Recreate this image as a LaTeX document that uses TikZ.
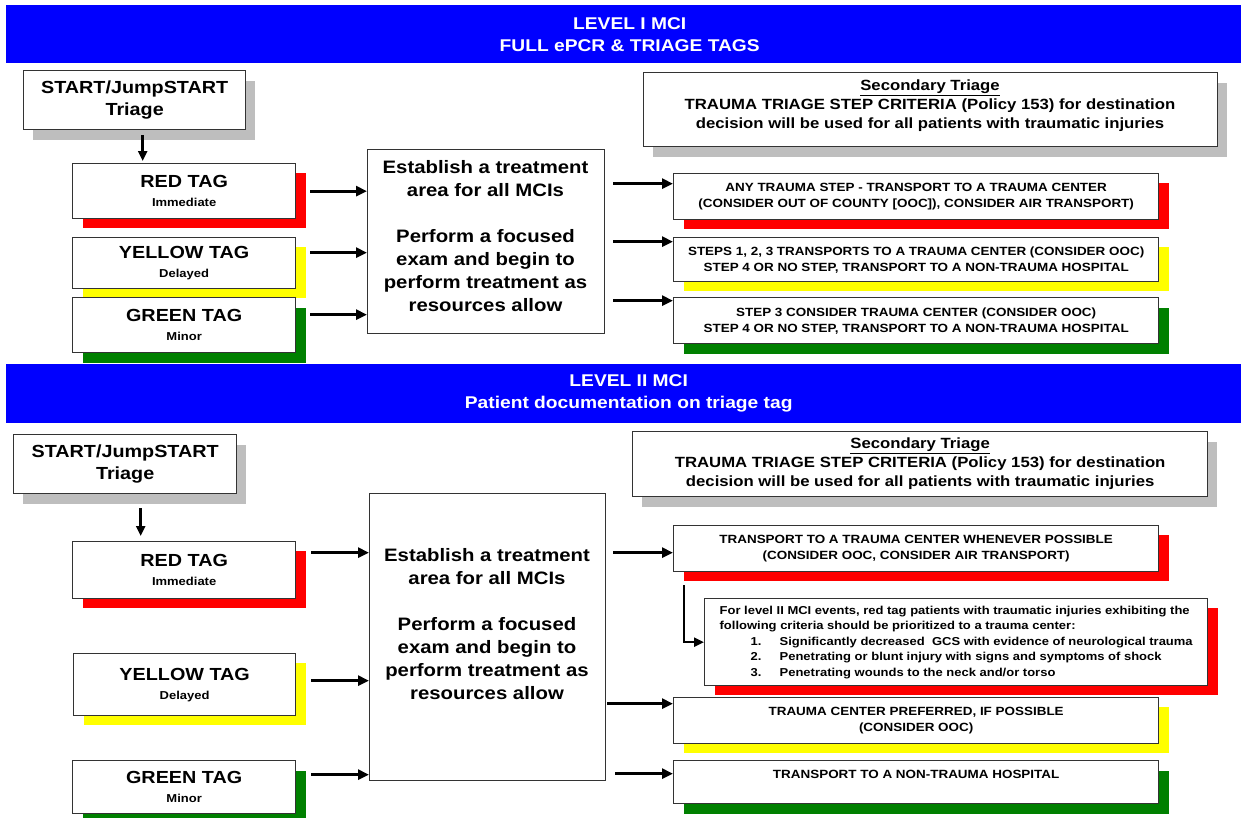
\documentclass[tikz,border=0pt]{standalone}
\usepackage{fontspec}
\setmainfont{Liberation Sans}[FakeStretch=1.13]
\usetikzlibrary{arrows.meta,shadows}
\definecolor{hblue}{RGB}{0,0,255}
\definecolor{tred}{RGB}{255,0,0}
\definecolor{tyel}{RGB}{255,255,0}
\definecolor{tgrn}{RGB}{0,128,0}
\definecolor{tgray}{RGB}{190,190,190}
\newcommand{\smalltag}[1]{{\fontsize{11.5}{12}\selectfont #1}}
\begin{document}
\begin{tikzpicture}[x=1pt,y=-1pt,
  box/.style={draw=black!80, line width=1.3pt, fill=white, inner sep=0pt, anchor=north west, align=center},
  shgray/.style={drop shadow={shadow xshift=9pt,shadow yshift=-10pt,fill=tgray,opacity=1}},
  shred/.style={drop shadow={shadow xshift=10pt,shadow yshift=-9pt,fill=tred,opacity=1}},
  shyel/.style={drop shadow={shadow xshift=10pt,shadow yshift=-9pt,fill=tyel,opacity=1}},
  shgrn/.style={drop shadow={shadow xshift=10pt,shadow yshift=-10pt,fill=tgrn,opacity=1}},
  hdr/.style={fill=hblue, inner sep=0pt, anchor=north west, align=center, text=white, font=\bfseries\fontsize{17}{22}\selectfont},
  starttxt/.style={font=\bfseries\fontsize{17.5}{22}\selectfont},
  tagtxt/.style={font=\bfseries\fontsize{17.5}{19}\selectfont},
  midtxt/.style={align=center, inner sep=0pt, font=\bfseries\fontsize{18}{23}\selectfont},
  restxt/.style={font=\bfseries\fontsize{11.9}{16}\selectfont},
  sectxt/.style={align=center, inner sep=0pt, font=\bfseries\fontsize{14.8}{19}\selectfont},
  arr/.style={line width=2.8pt, -{Triangle[length=11pt,width=10pt]}},
  arrb/.style={line width=2.4pt, -{Triangle[length=10pt,width=9pt]}}
]
\useasboundingbox (0,0) rectangle (1241,817);

% ===== headers =====
\node[hdr, minimum width=1235pt, minimum height=58pt] (hdr1) at (6,5) {\hspace*{12pt}LEVEL I MCI\\\hspace*{12pt}FULL ePCR \& TRIAGE TAGS};
\node[hdr, minimum width=1235pt, minimum height=59pt] (hdr2) at (6,364) {\hspace*{10pt}LEVEL II MCI\\\hspace*{10pt}Patient documentation on triage tag};

% ===== LEVEL I =====
\node[box, shgray, starttxt, minimum width=222pt, minimum height=59pt] (start1) at (23,70) {START/JumpSTART\\Triage};
\node[box, shred, tagtxt, minimum width=223pt, minimum height=55pt] (red1) at (72,163) {RED TAG\\\smalltag{Immediate}};
\node[box, shyel, tagtxt, minimum width=223pt, minimum height=51pt] (yel1) at (72,237) {YELLOW TAG\\\smalltag{Delayed}};
\node[box, shgrn, tagtxt, minimum width=223pt, minimum height=55pt] (grn1) at (72,297) {GREEN TAG\\\smalltag{Minor}};

\node[box, minimum width=237pt, minimum height=184pt] (mid1) at (367,149) {};
\node[midtxt] (mid1t) at (485.5,236) {Establish a treatment\\area for all MCIs\\[23pt]Perform a focused\\exam and begin to\\perform treatment as\\resources allow};

\node[box, shgray, minimum width=574pt, minimum height=74pt] (sec1) at (643,72) {};
\node[sectxt] (sec1t) at (930,106) {\underline{Secondary Triage}\\TRAUMA TRIAGE STEP CRITERIA (Policy 153) for destination\\decision will be used for all patients with traumatic injuries};

\node[box, shred, restxt, minimum width=485pt, minimum height=46pt] (r1a) at (673,173) {ANY TRAUMA STEP - TRANSPORT TO A TRAUMA CENTER\\(CONSIDER OUT OF COUNTY [OOC]), CONSIDER AIR TRANSPORT)};
\node[box, shyel, restxt, minimum width=485pt, minimum height=44pt] (r1b) at (673,237) {STEPS 1, 2, 3 TRANSPORTS TO A TRAUMA CENTER (CONSIDER OOC)\\STEP 4 OR NO STEP, TRANSPORT TO A NON-TRAUMA HOSPITAL};
\node[box, shgrn, restxt, minimum width=485pt, minimum height=46pt] (r1c) at (673,297) {STEP 3 CONSIDER TRAUMA CENTER (CONSIDER OOC)\\STEP 4 OR NO STEP, TRANSPORT TO A NON-TRAUMA HOSPITAL};

% connectors level I
\coordinate (d1) at ([xshift=8pt,yshift=-5pt]start1.south);
\draw[arrb, shorten >=2pt] (d1) -- (d1 |- red1.north);
\coordinate (ar1) at ([xshift=14pt]red1.east);
\coordinate (ay1) at ([xshift=14pt,yshift=10.5pt]yel1.east);
\coordinate (ag1) at ([xshift=14pt,yshift=10.5pt]grn1.east);
\draw[arr] (ar1) -- (ar1 -| mid1.west);
\draw[arr] (ay1) -- (ay1 -| mid1.west);
\draw[arr] (ag1) -- (ag1 -| mid1.west);
\coordinate (o1a) at ([yshift=13pt]r1a.west);
\coordinate (o1b) at ([yshift=18pt]r1b.west);
\coordinate (o1c) at ([yshift=20pt]r1c.west);
\draw[arr, shorten <=8pt] (o1a -| mid1.east) -- (o1a);
\draw[arr, shorten <=8pt] (o1b -| mid1.east) -- (o1b);
\draw[arr, shorten <=8pt] (o1c -| mid1.east) -- (o1c);

% ===== LEVEL II =====
\node[box, shgray, starttxt, minimum width=223pt, minimum height=59pt] (start2) at (13,434) {START/JumpSTART\\Triage};
\node[box, shred, tagtxt, minimum width=223pt, minimum height=57pt] (red2) at (72,541) {RED TAG\\\smalltag{Immediate}};
\node[box, shyel, tagtxt, minimum width=222pt, minimum height=62pt] (yel2) at (73,653) {YELLOW TAG\\\smalltag{Delayed}};
\node[box, shgrn, tagtxt, minimum width=223pt, minimum height=53pt] (grn2) at (72,760) {GREEN TAG\\\smalltag{Minor}};

\node[box, minimum width=236pt, minimum height=287pt] (mid2) at (369,493) {};
\node[midtxt] (mid2t) at (487,624.5) {Establish a treatment\\area for all MCIs\\[23pt]Perform a focused\\exam and begin to\\perform treatment as\\resources allow};

\node[box, shgray, sectxt, anchor=north west, minimum width=575pt, minimum height=65pt] (sec2) at (632,431) {\underline{Secondary Triage}\\TRAUMA TRIAGE STEP CRITERIA (Policy 153) for destination\\decision will be used for all patients with traumatic injuries};

\node[box, shred, restxt, minimum width=485pt, minimum height=46pt] (r2a) at (673,525) {TRANSPORT TO A TRAUMA CENTER WHENEVER POSSIBLE\\(CONSIDER OOC, CONSIDER AIR TRANSPORT)};
\node[box, shred, align=left, minimum width=503pt, minimum height=87pt, font=\bfseries\fontsize{11.5}{15.5}\selectfont] (info) at (704,598) {For level II MCI events, red tag patients with traumatic injuries exhibiting the\\following criteria should be prioritized to a trauma center:\\\hspace*{31pt}\makebox[29pt][l]{1.}Significantly decreased\ \ GCS with evidence of neurological trauma\\\hspace*{31pt}\makebox[29pt][l]{2.}Penetrating or blunt injury with signs and symptoms of shock\\\hspace*{31pt}\makebox[29pt][l]{3.}Penetrating wounds to the neck and/or torso};
\node[box, shyel, restxt, minimum width=485pt, minimum height=46pt] (r2b) at (673,697) {TRAUMA CENTER PREFERRED, IF POSSIBLE\\(CONSIDER OOC)};
\node[box, shgrn, restxt, minimum width=485pt, minimum height=43pt] (r2c) at (673,760) {TRANSPORT TO A NON-TRAUMA HOSPITAL\\\phantom{X}};

% connectors level II
\coordinate (d2) at ([xshift=15.5pt,yshift=-14pt]start2.south);
\draw[arrb, shorten >=5pt] (d2) -- (d2 |- red2.north);
\coordinate (ar2) at ([xshift=15pt,yshift=17.5pt]red2.east);
\coordinate (ay2) at ([xshift=15pt,yshift=4pt]yel2.east);
\coordinate (ag2) at ([xshift=15pt,yshift=12.5pt]grn2.east);
\draw[arr] (ar2) -- (ar2 -| mid2.west);
\draw[arr] (ay2) -- (ay2 -| mid2.west);
\draw[arr] (ag2) -- (ag2 -| mid2.west);
\coordinate (o2a) at ([yshift=-4pt]r2a.west);
\coordinate (o2b) at ([yshift=17pt]r2b.west);
\coordinate (o2c) at ([yshift=8.5pt]r2c.west);
\draw[arr, shorten <=7pt] (o2a -| mid2.east) -- (o2a);
\draw[arr, shorten <=1pt] (o2b -| mid2.east) -- (o2b);
\draw[arr, shorten <=9pt] (o2c -| mid2.east) -- (o2c);
\coordinate (e0) at ([xshift=11pt,yshift=-13pt]r2a.south west);
\draw[arrb] (e0) |- (info.west);
\end{tikzpicture}
\end{document}
